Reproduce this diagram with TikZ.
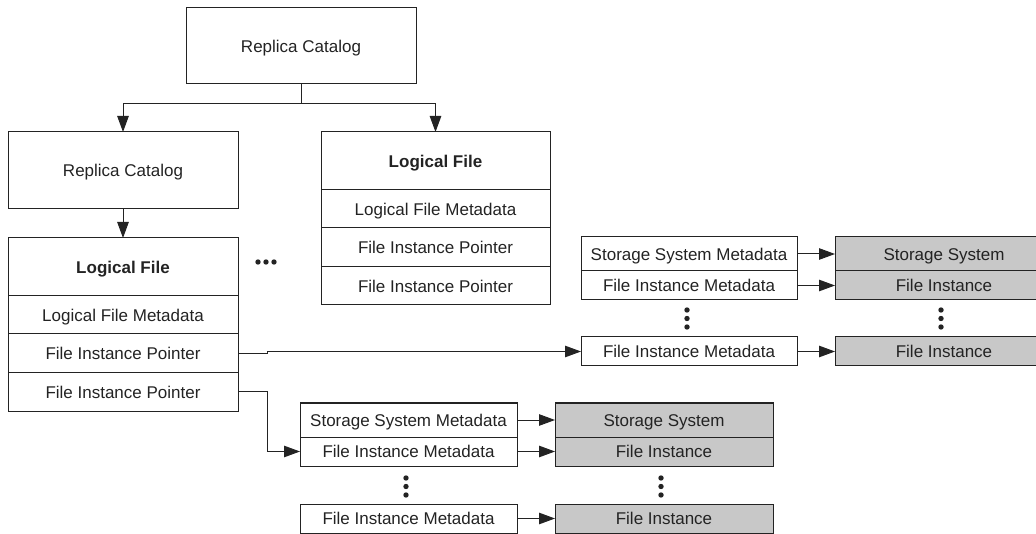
\documentclass[tikz,border=0pt]{standalone}
\usepackage{fontspec}
\setmainfont{Liberation Sans}
\usetikzlibrary{arrows.meta}
\definecolor{boxgray}{RGB}{200,200,200}
\definecolor{ink}{RGB}{35,35,35}
\begin{document}
\begin{tikzpicture}[x=1pt,y=-1pt,
  box/.style={draw=ink,line width=1pt,inner sep=0pt,outer sep=0pt,
    text=ink,font=\fontsize{17}{20}\selectfont,
    text height=12.2pt,text depth=0pt,anchor=center},
  gbox/.style={box,fill=boxgray},
  arr/.style={draw=ink,line width=1pt,-{Triangle[length=16pt,width=11.5pt]}},
  conn/.style={draw=ink,line width=1pt},
  dot/.style={fill=ink}]
\clip (0,0) rectangle (1036,534);
% top tree
\node[box,minimum width=230,minimum height=76] (top) at (301,46) {Replica Catalog};
\node[box,minimum width=230,minimum height=77] (rc) at (123,170.5) {Replica Catalog};
\node[box,minimum width=230,minimum height=58] (la) at (123,267) {\textbf{Logical File}};
\node[box,minimum width=230,minimum height=38] (lb) at (123,315) {Logical File Metadata};
\node[box,minimum width=230,minimum height=39] (lc) at (123,353.5) {File Instance Pointer};
\node[box,minimum width=230,minimum height=38] (ld) at (123,392) {File Instance Pointer};
\node[box,minimum width=229,minimum height=58] (ma) at (435.5,161) {\textbf{Logical File}};
\node[box,minimum width=229,minimum height=38] (mb) at (435.5,209) {Logical File Metadata};
\node[box,minimum width=229,minimum height=39] (mc) at (435.5,247.5) {File Instance Pointer};
\node[box,minimum width=229,minimum height=38] (md) at (435.5,286) {File Instance Pointer};
\coordinate (hl) at (0,104);
\draw[arr] (top.south) -- (top.south |- hl) -| (rc.north);
\draw[arr] (top.south) -- (top.south |- hl) -| (ma.north);
\draw[arr] (rc.south) -- (la.north);
% horizontal ellipsis
\fill[dot] (258,262) circle (2.7) (266,262) circle (2.7) (274,262) circle (2.7);
% right group
\node[box,minimum width=216,minimum height=34] (rm1) at (689,254) {Storage System Metadata};
\node[box,minimum width=216,minimum height=29] (rm2) at (689,285.5) {File Instance Metadata};
\node[box,minimum width=216,minimum height=29] (rm3) at (689,351.5) {File Instance Metadata};
\node[gbox,minimum width=218,minimum height=34] (rg1) at (944,254) {Storage System};
\node[gbox,minimum width=218,minimum height=29] (rg2) at (944,285.5) {File Instance};
\node[gbox,minimum width=218,minimum height=29] (rg3) at (944,351.5) {File Instance};
\draw[arr] (rm1.east) -- (rg1.west);
\draw[arr] (rm2.east) -- (rg2.west);
\draw[arr] (rm3.east) -- (rg3.west);
\fill[dot] (687,310) circle (2.7) (687,318.5) circle (2.7) (687,327) circle (2.7);
\fill[dot] (941,310) circle (2.7) (941,318.5) circle (2.7) (941,327) circle (2.7);
% bottom group
\node[box,minimum width=217,minimum height=34] (bm1) at (408.5,420) {Storage System Metadata};
\node[box,minimum width=217,minimum height=29] (bm2) at (408.5,451.5) {File Instance Metadata};
\node[box,minimum width=217,minimum height=29] (bm3) at (408.5,518.5) {File Instance Metadata};
\node[gbox,minimum width=218,minimum height=34] (bg1) at (664,420) {Storage System};
\node[gbox,minimum width=218,minimum height=29] (bg2) at (664,451.5) {File Instance};
\node[gbox,minimum width=218,minimum height=29] (bg3) at (664,518.5) {File Instance};
\draw[arr] (bm1.east) -- (bg1.west);
\draw[arr] (bm2.east) -- (bg2.west);
\draw[arr] (bm3.east) -- (bg3.west);
\fill[dot] (406,478) circle (2.7) (406,486.5) circle (2.7) (406,495) circle (2.7);
\fill[dot] (661,478) circle (2.7) (661,486.5) circle (2.7) (661,495) circle (2.7);
% pointers
\draw[arr] (lc.east) -- ++(29,0) |- (rm3.west);
\draw[arr] (ld.east) -- ++(29,0) |- (bm2.west);
\end{tikzpicture}
\end{document}
